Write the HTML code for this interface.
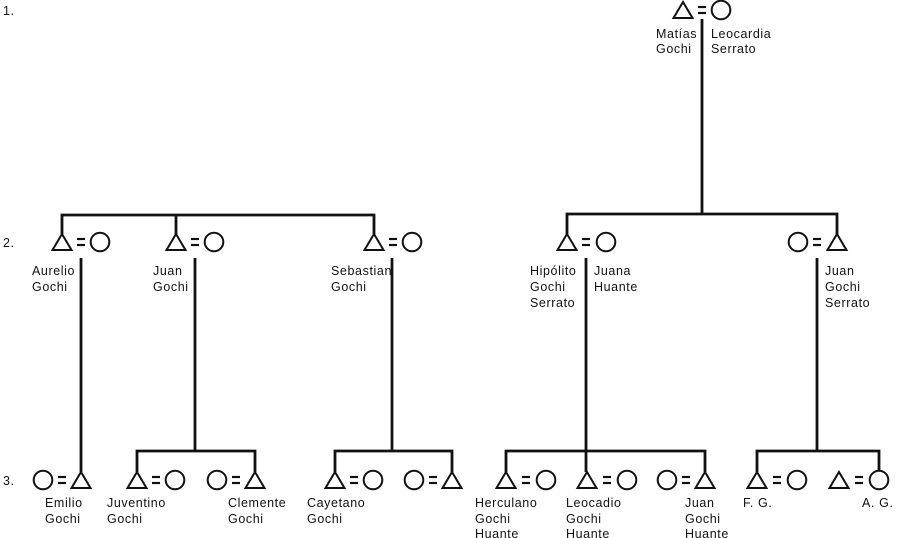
<!DOCTYPE html>
<html><head><meta charset="utf-8"><style>
html,body{margin:0;padding:0;background:#fff;width:900px;height:538px;overflow:hidden}
svg{display:block}
text{font-family:"Liberation Sans","DejaVu Sans",sans-serif;font-size:12.5px;fill:#111;letter-spacing:0.6px}
</style></head><body>
<svg width="900" height="538" viewBox="0 0 900 538" xmlns="http://www.w3.org/2000/svg">
<defs>
<g id="tri"><polygon points="0,-8 9.5,8 -9.5,8" fill="none" stroke="#111" stroke-width="2"/></g>
<g id="cir"><circle cx="0" cy="0" r="9.3" fill="none" stroke="#111" stroke-width="2"/></g>
<g id="eq"><line x1="-4" y1="-3" x2="4" y2="-3" stroke="#111" stroke-width="2.2"/><line x1="-4" y1="3" x2="4" y2="3" stroke="#111" stroke-width="2.2"/></g>
</defs>
<g stroke="#111" stroke-width="2.8" fill="none">
<line x1="702" y1="19" x2="702" y2="214"/>
<polyline points="567,234 567,214 837,214 837,234"/>
<polyline points="62,234 62,215 374,215 374,234"/>
<line x1="176" y1="215" x2="176" y2="234"/>
<line x1="81" y1="258" x2="81" y2="472"/>
<line x1="195" y1="258" x2="195" y2="451"/>
<line x1="392" y1="258" x2="392" y2="451"/>
<line x1="586" y1="258" x2="586" y2="472"/>
<line x1="817" y1="258" x2="817" y2="451"/>
<polyline points="137,472 137,451 255,451 255,472"/>
<polyline points="335,472 335,451 452,451 452,472"/>
<polyline points="506,472 506,451 705,451 705,472"/>
<polyline points="757,472 757,451 879,451 879,471"/>
</g>
<use href="#tri" x="683" y="10"/><use href="#eq" x="702" y="10"/><use href="#cir" x="721" y="10"/>
<use href="#tri" x="62" y="242"/><use href="#eq" x="81" y="242"/><use href="#cir" x="100" y="242"/>
<use href="#tri" x="176" y="242"/><use href="#eq" x="195" y="242"/><use href="#cir" x="214" y="242"/>
<use href="#tri" x="374" y="242"/><use href="#eq" x="393" y="242"/><use href="#cir" x="412" y="242"/>
<use href="#tri" x="567" y="242"/><use href="#eq" x="586" y="242"/><use href="#cir" x="606" y="242"/>
<use href="#cir" x="798" y="242"/><use href="#eq" x="817" y="242"/><use href="#tri" x="837" y="242"/>
<use href="#cir" x="43" y="480"/><use href="#eq" x="62" y="480"/><use href="#tri" x="81" y="480"/>
<use href="#tri" x="137" y="480"/><use href="#eq" x="156" y="480"/><use href="#cir" x="175" y="480"/>
<use href="#cir" x="217" y="480"/><use href="#eq" x="236" y="480"/><use href="#tri" x="255" y="480"/>
<use href="#tri" x="335" y="480"/><use href="#eq" x="354" y="480"/><use href="#cir" x="373" y="480"/>
<use href="#cir" x="414" y="480"/><use href="#eq" x="433" y="480"/><use href="#tri" x="452" y="480"/>
<use href="#tri" x="506" y="480"/><use href="#eq" x="526" y="480"/><use href="#cir" x="546" y="480"/>
<use href="#tri" x="587" y="480"/><use href="#eq" x="607" y="480"/><use href="#cir" x="627" y="480"/>
<use href="#cir" x="667" y="480"/><use href="#eq" x="686" y="480"/><use href="#tri" x="705" y="480"/>
<use href="#tri" x="757" y="480"/><use href="#eq" x="777" y="480"/><use href="#cir" x="797" y="480"/>
<use href="#tri" x="839" y="480"/><use href="#eq" x="859" y="480"/><use href="#cir" x="879" y="480"/>
<text x="3" y="15">1.</text>
<text x="3" y="247">2.</text>
<text x="3" y="485">3.</text>
<text x="656" y="38">Matías</text><text x="656" y="53">Gochi</text>
<text x="711" y="38">Leocardia</text><text x="711" y="53">Serrato</text>
<text x="32" y="275">Aurelio</text><text x="32" y="291">Gochi</text>
<text x="153" y="275">Juan</text><text x="153" y="291">Gochi</text>
<text x="331" y="275">Sebastian</text><text x="331" y="291">Gochi</text>
<text x="530" y="275">Hipólito</text><text x="530" y="291">Gochi</text><text x="530" y="307">Serrato</text>
<text x="594" y="275">Juana</text><text x="594" y="291">Huante</text>
<text x="825" y="275">Juan</text><text x="825" y="291">Gochi</text><text x="825" y="307">Serrato</text>
<text x="45" y="507">Emilio</text><text x="45" y="523">Gochi</text>
<text x="107" y="507">Juventino</text><text x="107" y="523">Gochi</text>
<text x="228" y="507">Clemente</text><text x="228" y="523">Gochi</text>
<text x="307" y="507">Cayetano</text><text x="307" y="523">Gochi</text>
<text x="475" y="507">Herculano</text><text x="475" y="523">Gochi</text><text x="475" y="538">Huante</text>
<text x="566" y="507">Leocadio</text><text x="566" y="523">Gochi</text><text x="566" y="538">Huante</text>
<text x="685" y="507">Juan</text><text x="685" y="523">Gochi</text><text x="685" y="538">Huante</text>
<text x="743" y="507">F. G.</text>
<text x="862" y="507">A. G.</text>
</svg>
</body></html>
